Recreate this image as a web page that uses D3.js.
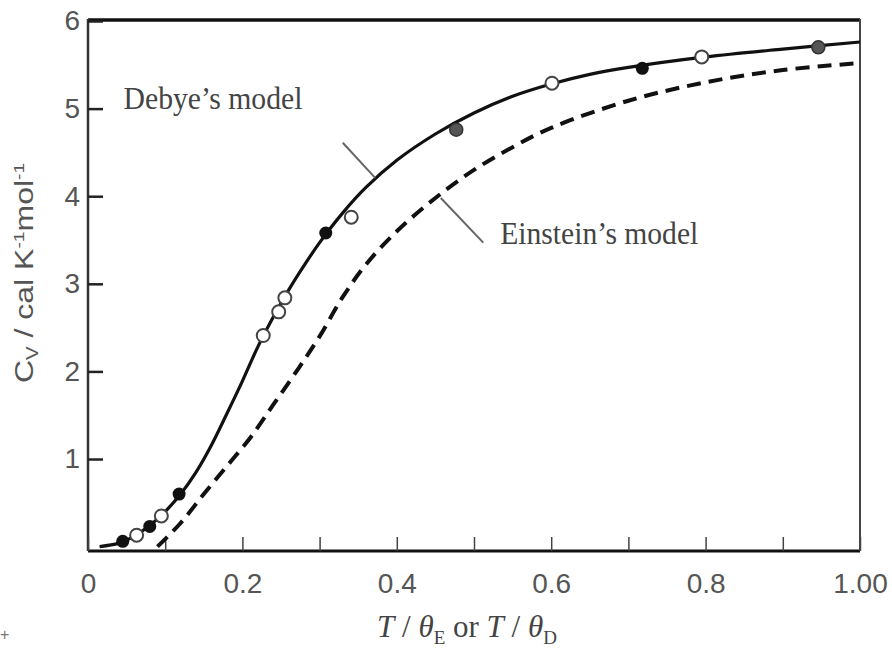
<!DOCTYPE html>
<html>
  <head>
    <meta charset="utf-8" />
    <style>
      body {
        margin: 0;
        background: #fff;
      }
      svg {
        display: block;
      }
      .tick text {
        font-family: "Liberation Sans", Arial, sans-serif;
        font-size: 28px;
        fill: #555;
      }
      .note {
        font-family: "Liberation Serif", "Times New Roman", serif;
        font-size: 31px;
        fill: #444;
      }
    </style>
  </head>
  <body>
    <svg width="892" height="656"></svg>

    <script src="https://d3js.org/d3.v7.min.js"></script>
    <script>
      // curves
      let debyeT = [0.015, 0.04, 0.06, 0.08, 0.1, 0.12, 0.14, 0.16, 0.18, 0.2, 0.22, 0.24, 0.26, 0.28, 0.3, 0.33, 0.36, 0.4, 0.45, 0.5, 0.55, 0.6, 0.65, 0.7, 0.8, 0.9, 1.0];
      let debyeCv = [0, 0.04, 0.12, 0.24, 0.4, 0.6, 0.85, 1.16, 1.52, 1.89, 2.28, 2.62, 2.93, 3.21, 3.47, 3.81, 4.1, 4.41, 4.71, 4.95, 5.14, 5.28, 5.39, 5.47, 5.59, 5.68, 5.76];

      let einsteinT = [0.09, 0.12, 0.15, 0.18, 0.21, 0.24, 0.27, 0.3, 0.33, 0.36, 0.4, 0.45, 0.5, 0.55, 0.6, 0.7, 0.8, 0.9, 1.0];
      let einsteinCv = [0, 0.27, 0.6, 0.92, 1.24, 1.62, 2.0, 2.4, 2.85, 3.22, 3.6, 3.98, 4.3, 4.56, 4.78, 5.09, 5.3, 5.44, 5.52];

      // measured points
      let filledT = [0.045, 0.08, 0.118, 0.308, 0.718];
      let filledCv = [0.06, 0.23, 0.6, 3.58, 5.46];
      let fadedT = [0.477, 0.946];
      let fadedCv = [4.76, 5.7];
      let openT = [0.063, 0.095, 0.227, 0.247, 0.255, 0.341, 0.601, 0.795];
      let openCv = [0.13, 0.35, 2.41, 2.68, 2.84, 3.76, 5.29, 5.59];

      let xTicks = [0, 0.1, 0.2, 0.3, 0.4, 0.5, 0.6, 0.7, 0.8, 0.9, 1.0];
      let xTickLabels = ["0", "", "0.2", "", "0.4", "", "0.6", "", "0.8", "", "1.00"];
      let yTicks = [1, 2, 3, 4, 5, 6];

      let svg = d3.select("svg");

      let x = d3.scaleLinear().domain([0, 1]).range([88, 860]);
      let y = d3.scaleLinear().domain([-0.05, 6]).range([551, 21]);

      let zip = (a, b) => a.map((v, i) => [v, b[i]]);

      // frame
      svg.append("line")
        .attr("x1", x(0)).attr("x2", x(1))
        .attr("y1", y(6) - 1).attr("y2", y(6) - 1)
        .attr("stroke", "#111").attr("stroke-width", 3.5);
      svg.append("line")
        .attr("x1", x(0)).attr("x2", x(1))
        .attr("y1", y(-0.05)).attr("y2", y(-0.05))
        .attr("stroke", "#111").attr("stroke-width", 3);
      svg.append("line")
        .attr("x1", x(0)).attr("x2", x(0))
        .attr("y1", y(6) - 2).attr("y2", y(-0.05))
        .attr("stroke", "#333").attr("stroke-width", 2.5);
      svg.append("line")
        .attr("x1", x(1)).attr("x2", x(1))
        .attr("y1", y(6) - 2).attr("y2", y(-0.05))
        .attr("stroke", "#444").attr("stroke-width", 2);

      // axes, ticks pointing inward
      let yAxis = svg.append("g")
        .attr("transform", `translate(${x(0)},0)`)
        .call(d3.axisLeft(y).tickValues(yTicks).tickSize(-15).tickPadding(8).tickFormat(d3.format("d")));
      yAxis.select(".domain").remove();
      yAxis.selectAll(".tick line").attr("stroke", "#222").attr("stroke-width", 2.5);

      let xAxis = svg.append("g")
        .attr("transform", `translate(0,${y(-0.05)})`)
        .call(d3.axisBottom(x).tickValues(xTicks).tickSize(-14).tickPadding(22)
          .tickFormat((d, i) => xTickLabels[i]));
      xAxis.select(".domain").remove();
      xAxis.selectAll(".tick line").attr("stroke", "#444").attr("stroke-width", 1.5);

      // curves
      let line = d3.line()
        .x((d) => x(d[0]))
        .y((d) => y(d[1]))
        .curve(d3.curveCatmullRom);

      svg.append("path")
        .attr("d", line(zip(einsteinT, einsteinCv)))
        .attr("fill", "none")
        .attr("stroke", "#111")
        .attr("stroke-width", 4)
        .attr("stroke-dasharray", "14 8");

      svg.append("path")
        .attr("d", line(zip(debyeT, debyeCv)))
        .attr("fill", "none")
        .attr("stroke", "#111")
        .attr("stroke-width", 3.2);

      // points
      let r = 6.5;
      svg.append("g").selectAll("circle")
        .data(zip(openT, openCv)).join("circle")
        .attr("cx", (d) => x(d[0])).attr("cy", (d) => y(d[1])).attr("r", r)
        .attr("fill", "#fff").attr("stroke", "#444").attr("stroke-width", 2);
      svg.append("g").selectAll("circle")
        .data(zip(filledT, filledCv)).join("circle")
        .attr("cx", (d) => x(d[0])).attr("cy", (d) => y(d[1])).attr("r", r)
        .attr("fill", "#111");
      svg.append("g").selectAll("circle")
        .data(zip(fadedT, fadedCv)).join("circle")
        .attr("cx", (d) => x(d[0])).attr("cy", (d) => y(d[1])).attr("r", r)
        .attr("fill", "#555").attr("stroke", "#333").attr("stroke-width", 1.5);

      // labels and leader lines
      svg.append("text").attr("class", "note")
        .attr("x", x(0.046)).attr("y", y(5.0))
        .attr("textLength", 179).attr("lengthAdjust", "spacingAndGlyphs")
        .text("Debye\u2019s model");
      svg.append("line")
        .attr("x1", x(0.33)).attr("y1", y(4.61))
        .attr("x2", x(0.372)).attr("y2", y(4.21))
        .attr("stroke", "#666").attr("stroke-width", 2);

      svg.append("text").attr("class", "note")
        .attr("x", x(0.534)).attr("y", y(3.46))
        .attr("textLength", 198).attr("lengthAdjust", "spacingAndGlyphs")
        .text("Einstein\u2019s model");
      svg.append("line")
        .attr("x1", x(0.457)).attr("y1", y(3.98))
        .attr("x2", x(0.512)).attr("y2", y(3.47))
        .attr("stroke", "#666").attr("stroke-width", 2);

      // y label
      let yl = svg.append("text")
        .attr("transform", "translate(33,273) rotate(-90) scale(1.28,1)")
        .attr("text-anchor", "middle")
        .style("font-family", "'Liberation Sans', Arial, sans-serif")
        .style("font-size", "25px")
        .style("fill", "#555");
      yl.append("tspan").text("C");
      yl.append("tspan").attr("dy", 5).style("font-size", "16px").text("V");
      yl.append("tspan").attr("dy", -5).text(" / cal K");
      yl.append("tspan").attr("dy", -9).style("font-size", "15px").text("-1");
      yl.append("tspan").attr("dy", 9).text("mol");
      yl.append("tspan").attr("dy", -9).style("font-size", "15px").text("-1");

      // x label
      let xl = svg.append("text")
        .attr("x", 467).attr("y", 637)
        .attr("text-anchor", "middle")
        .style("font-family", "'Liberation Serif', 'Times New Roman', serif")
        .style("font-size", "31px")
        .style("fill", "#444");
      xl.append("tspan").style("font-style", "italic").text("T");
      xl.append("tspan").text(" / ");
      xl.append("tspan").style("font-style", "italic").text("\u03b8");
      xl.append("tspan").attr("dy", 7).style("font-size", "19px").text("E");
      xl.append("tspan").attr("dy", -7).text(" or ");
      xl.append("tspan").style("font-style", "italic").text("T");
      xl.append("tspan").text(" / ");
      xl.append("tspan").style("font-style", "italic").text("\u03b8");
      xl.append("tspan").attr("dy", 7).style("font-size", "19px").text("D");

      // small scan mark in the corner
      svg.append("text")
        .attr("x", 0).attr("y", 640)
        .style("font-family", "'Liberation Sans', sans-serif")
        .style("font-size", "16px")
        .style("fill", "#777")
        .text("+");
    </script>
  </body>
</html>
